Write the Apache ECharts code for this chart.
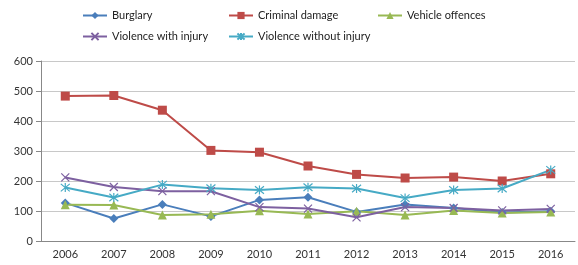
<!DOCTYPE html>
<html>
<head>
<meta charset="utf-8">
<script src="https://cdn.jsdelivr.net/npm/echarts@6/dist/echarts.min.js"></script>
<style>
  html, body { margin: 0; padding: 0; background: #fff; }
  #chart { width: 578px; height: 265px; }
</style>
</head>
<body>
<div id="chart"></div>
<script>
  // years on the category axis
  const years = ['2006', '2007', '2008', '2009', '2010', '2011', '2012', '2013', '2014', '2015', '2016'];

  // values
  const burglary = [127, 75, 122, 82, 137, 146, 97, 122, 110, 95, 99];
  const criminalDamage = [483, 485, 436, 302, 296, 250, 222, 210, 213, 200, 224];
  const vehicleOffences = [121, 120, 87, 89, 101, 90, 99, 87, 102, 93, 97];
  const violenceWithInjury = [212, 180, 166, 166, 113, 108, 79, 113, 110, 102, 107];
  const violenceWithoutInjury = [178, 145, 188, 176, 170, 179, 175, 143, 170, 175, 237];

  const seriesNames = ['Burglary', 'Criminal damage', 'Vehicle offences', 'Violence with injury', 'Violence without injury'];

  const xMark = 'path://M0,0L10,10M10,0L0,10';
  const starMark = 'path://M0,0L10,10M10,0L0,10M5,-1L5,11';

  const makeSeries = (name, data, color, symbol, size) => {
    const stroked = symbol.startsWith('path://');
    return {
      name,
      type: 'line',
      data,
      symbol,
      symbolSize: size,
      lineStyle: { color, width: 2 },
      itemStyle: stroked
        ? { color: 'rgba(0,0,0,0)', borderColor: color, borderWidth: 1.2 }
        : { color },
      color,
      z: 2,
    };
  };

  // one legend per entry so each sits where the reference puts it
  const legendSpots = [
    [82, 10], [228, 10], [377, 10],
    [82, 31], [228, 31],
  ];
  const legends = seriesNames.map((name, i) => ({
    left: legendSpots[i][0],
    top: legendSpots[i][1],
    padding: 0,
    itemWidth: 24,
    itemHeight: 9,
    textStyle: { fontSize: 11, color: '#222' },
    data: [name],
  }));

  const chart = echarts.init(document.getElementById('chart'));

  chart.setOption({
    animation: false,
    textStyle: { fontFamily: 'Lato, "Open Sans", sans-serif' },
    legend: legends,
    grid: { left: 41, right: 3, top: 61, bottom: 24 },
    xAxis: {
      type: 'category',
      data: years,
      boundaryGap: true,
      axisLine: { lineStyle: { color: '#888' } },
      axisTick: { lineStyle: { color: '#888' } },
      axisLabel: { fontSize: 11, color: '#333', margin: 8 },
    },
    yAxis: {
      type: 'value',
      min: 0,
      max: 600,
      interval: 100,
      axisLine: { show: true, lineStyle: { color: '#888' } },
      axisTick: { show: true, lineStyle: { color: '#888' } },
      axisLabel: { fontSize: 11, color: '#333', margin: 8 },
      splitLine: { lineStyle: { color: '#c8c8c8' } },
    },
    series: [
      makeSeries(seriesNames[0], burglary, '#4a7ebb', 'diamond', 9),
      makeSeries(seriesNames[1], criminalDamage, '#be4b48', 'rect', 9),
      makeSeries(seriesNames[2], vehicleOffences, '#98b954', 'triangle', 9),
      makeSeries(seriesNames[3], violenceWithInjury, '#7d60a0', xMark, 8),
      makeSeries(seriesNames[4], violenceWithoutInjury, '#46aac5', starMark, 9),
    ],
  });
</script>
</body>
</html>
